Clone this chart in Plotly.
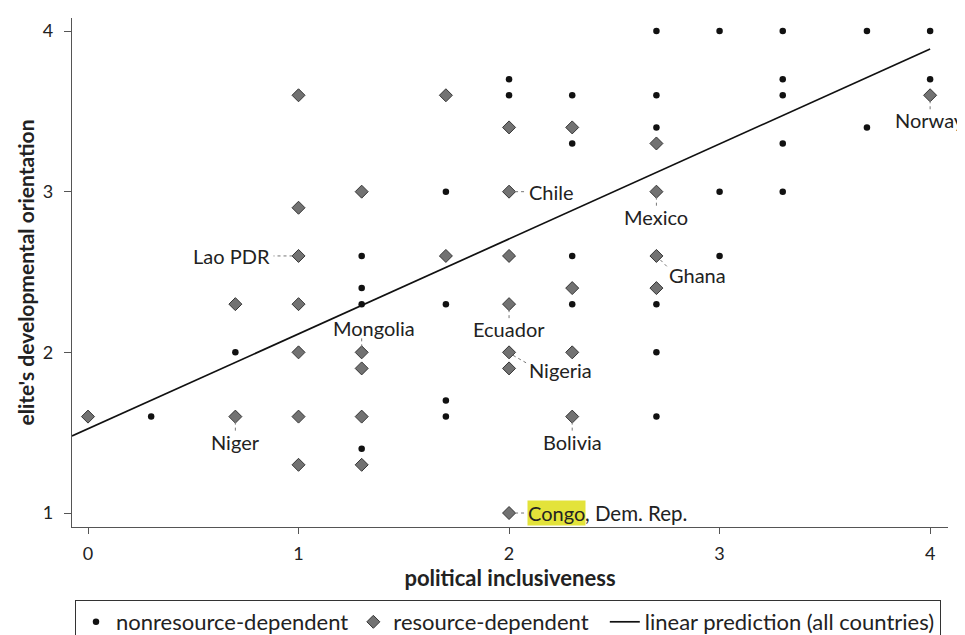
import plotly.graph_objects as go

# ---- data ----
nonres_x = [0.3, 0.7, 1.3, 1.3, 1.3, 1.3, 1.7, 1.7, 1.7, 1.7,
            2.0, 2.0, 2.3, 2.3, 2.3, 2.3,
            2.7, 2.7, 2.7, 2.7, 2.7, 2.7,
            3.0, 3.0, 3.0, 3.3, 3.3, 3.3, 3.3, 3.3, 3.7, 3.7, 4.0, 4.0]
nonres_y = [1.6, 2.0, 2.6, 2.4, 2.3, 1.4, 3.0, 2.3, 1.7, 1.6,
            3.7, 3.6, 3.6, 3.3, 2.6, 2.3,
            4.0, 3.6, 3.4, 2.3, 2.0, 1.6,
            4.0, 3.0, 2.6, 4.0, 3.7, 3.6, 3.3, 3.0, 4.0, 3.4, 4.0, 3.7]

res_x = [0.0, 0.7, 0.7, 1.0, 1.0, 1.0, 1.0, 1.0, 1.0, 1.0,
         1.3, 1.3, 1.3, 1.3, 1.3, 1.7, 1.7,
         2.0, 2.0, 2.0, 2.0, 2.0, 2.0, 2.0,
         2.3, 2.3, 2.3, 2.3, 2.7, 2.7, 2.7, 2.7, 4.0]
res_y = [1.6, 2.3, 1.6, 3.6, 2.9, 2.6, 2.3, 2.0, 1.6, 1.3,
         3.0, 2.0, 1.9, 1.6, 1.3, 3.6, 2.6,
         3.4, 3.0, 2.6, 2.3, 2.0, 1.9, 1.0,
         3.4, 2.4, 2.0, 1.6, 3.3, 3.0, 2.6, 2.4, 3.6]

# linear prediction (all countries)
fit_intercept = 1.524
fit_slope = 0.591

# labelled countries: name, x, y, position
label_names = ["Lao PDR", "Niger", "Mongolia", "Chile", "Ecuador", "Nigeria",
               "Bolivia", "Mexico", "Ghana", "Norway"]
label_x = [1.0, 0.7, 1.3, 2.0, 2.0, 2.0, 2.3, 2.7, 2.7, 4.0]
label_y = [2.6, 1.6, 2.0, 3.0, 2.3, 2.0, 1.6, 3.0, 2.6, 3.6]
label_pos = ["left", "below", "above_r", "right", "below", "lowright",
             "below", "below", "lowright_near", "below"]
congo_x, congo_y = 2.0, 1.0

legend_names = ["nonresource-dependent", "resource-dependent",
                "linear prediction (all countries)"]

x_ticks = [0, 1, 2, 3, 4]
y_ticks = [1, 2, 3, 4]
x_range = [-0.076, 4.085]
y_range = [0.913, 4.081]

FONT = "Lato"
TXT = "#222222"
LBL = 20
NBSP = "\u00a0"

fig = go.Figure()

fig.add_trace(go.Scatter(
    x=nonres_x, y=nonres_y, mode="markers", name=legend_names[0],
    marker=dict(symbol="circle", size=6.5, color="#111111", line=dict(width=0)),
    hoverinfo="skip"))
fig.add_trace(go.Scatter(
    x=res_x, y=res_y, mode="markers", name=legend_names[1] + NBSP * 2,
    marker=dict(symbol="diamond", size=10, color="#727272",
                line=dict(width=1, color="#363636")),
    hoverinfo="skip"))
line_x = [x_range[0], max(nonres_x + res_x)]
line_y = [fit_intercept + fit_slope * v for v in line_x]
fig.add_trace(go.Scatter(
    x=line_x, y=line_y, mode="lines", name=legend_names[2],
    line=dict(color="#111111", width=1.7), hoverinfo="skip"))

# offsets (pixels): connector start, connector end, text shift, anchors
offs = {
    "left":          ((-6, 0), (-25, 0), (-27, 0), "right", "middle"),
    "right":         ((6, 0), (18, 0), (18, 0), "left", "middle"),
    "below":         ((0, -5), (0, -15), (0, -11), "center", "top"),
    "above_r":       ((0, 5), (0, 15), (12, 10), "center", "bottom"),
    "lowright":      ((4, -3), (18, -11), (18, -18), "left", "middle"),
    "lowright_near": ((4, -4), (11, -11), (11, -19), "left", "middle"),
}

annotations = []
shapes = []
for name, lx, ly, pos in zip(label_names, label_x, label_y, label_pos):
    c0, c1, ts, xa, ya = offs[pos]
    shapes.append(dict(type="line", xref="x", yref="y",
                       xsizemode="pixel", ysizemode="pixel",
                       xanchor=lx, yanchor=ly,
                       x0=c0[0], x1=c1[0], y0=c0[1], y1=c1[1],
                       line=dict(color="#777777", width=1, dash="dot")))
    annotations.append(dict(x=lx, y=ly, xref="x", yref="y", text=name,
                            showarrow=False, xanchor=xa, yanchor=ya,
                            xshift=ts[0], yshift=ts[1],
                            font=dict(family=FONT, size=LBL, color=TXT)))

# Congo, Dem. Rep. with highlighted "Congo"
c0, c1, ts, xa, ya = offs["right"]
shapes.append(dict(type="line", xref="x", yref="y",
                   xsizemode="pixel", ysizemode="pixel",
                   xanchor=congo_x, yanchor=congo_y,
                   x0=c0[0], x1=c1[0], y0=0, y1=0,
                   line=dict(color="#777777", width=1, dash="dot")))
annotations.append(dict(x=congo_x, y=congo_y, xref="x", yref="y", text="Congo",
                        showarrow=False, xanchor="left", yanchor="middle",
                        xshift=ts[0], bgcolor="#e3e33a", borderpad=0,
                        font=dict(family=FONT, size=LBL, color=TXT)))
annotations.append(dict(x=congo_x, y=congo_y, xref="x", yref="y", text=", Dem. Rep.",
                        showarrow=False, xanchor="left", yanchor="middle",
                        xshift=ts[0] + 57, borderpad=0,
                        font=dict(family=FONT, size=20.5, color=TXT)))

fig.update_layout(
    width=965, height=635,
    margin=dict(l=64, r=25, t=10, b=116),
    paper_bgcolor="white", plot_bgcolor="white",
    font=dict(family=FONT, color=TXT),
    showlegend=True,
    legend=dict(orientation="h", xref="container", yref="container",
                x=500 / 965, xanchor="center", y=1 - 592 / 635, yanchor="top",
                bordercolor="#333333", borderwidth=1,
                font=dict(family=FONT, size=22, color=TXT),
                traceorder="normal"),
    annotations=annotations,
    shapes=shapes,
)
fig.update_xaxes(range=x_range, tickvals=x_ticks, showgrid=False, zeroline=False,
                 showline=True, linecolor="#555555", linewidth=1.3,
                 ticks="outside", ticklen=6, tickcolor="#555555",
                 ticklabelstandoff=4,
                 tickfont=dict(family=FONT, size=18, color=TXT),
                 title=dict(text="<b>political inclusiveness</b>", standoff=6,
                            font=dict(family=FONT, size=22, color=TXT)))
fig.update_yaxes(range=y_range, tickvals=y_ticks, showgrid=False, zeroline=False,
                 showline=True, linecolor="#555555", linewidth=1.3,
                 ticks="outside", ticklen=7, tickcolor="#555555",
                 ticklabelstandoff=7,
                 tickfont=dict(family=FONT, size=18, color=TXT),
                 title=dict(text="<b>elite's developmental orientation</b>", standoff=2,
                            font=dict(family=FONT, size=21, color=TXT)))

fig.write_html("out.html")
